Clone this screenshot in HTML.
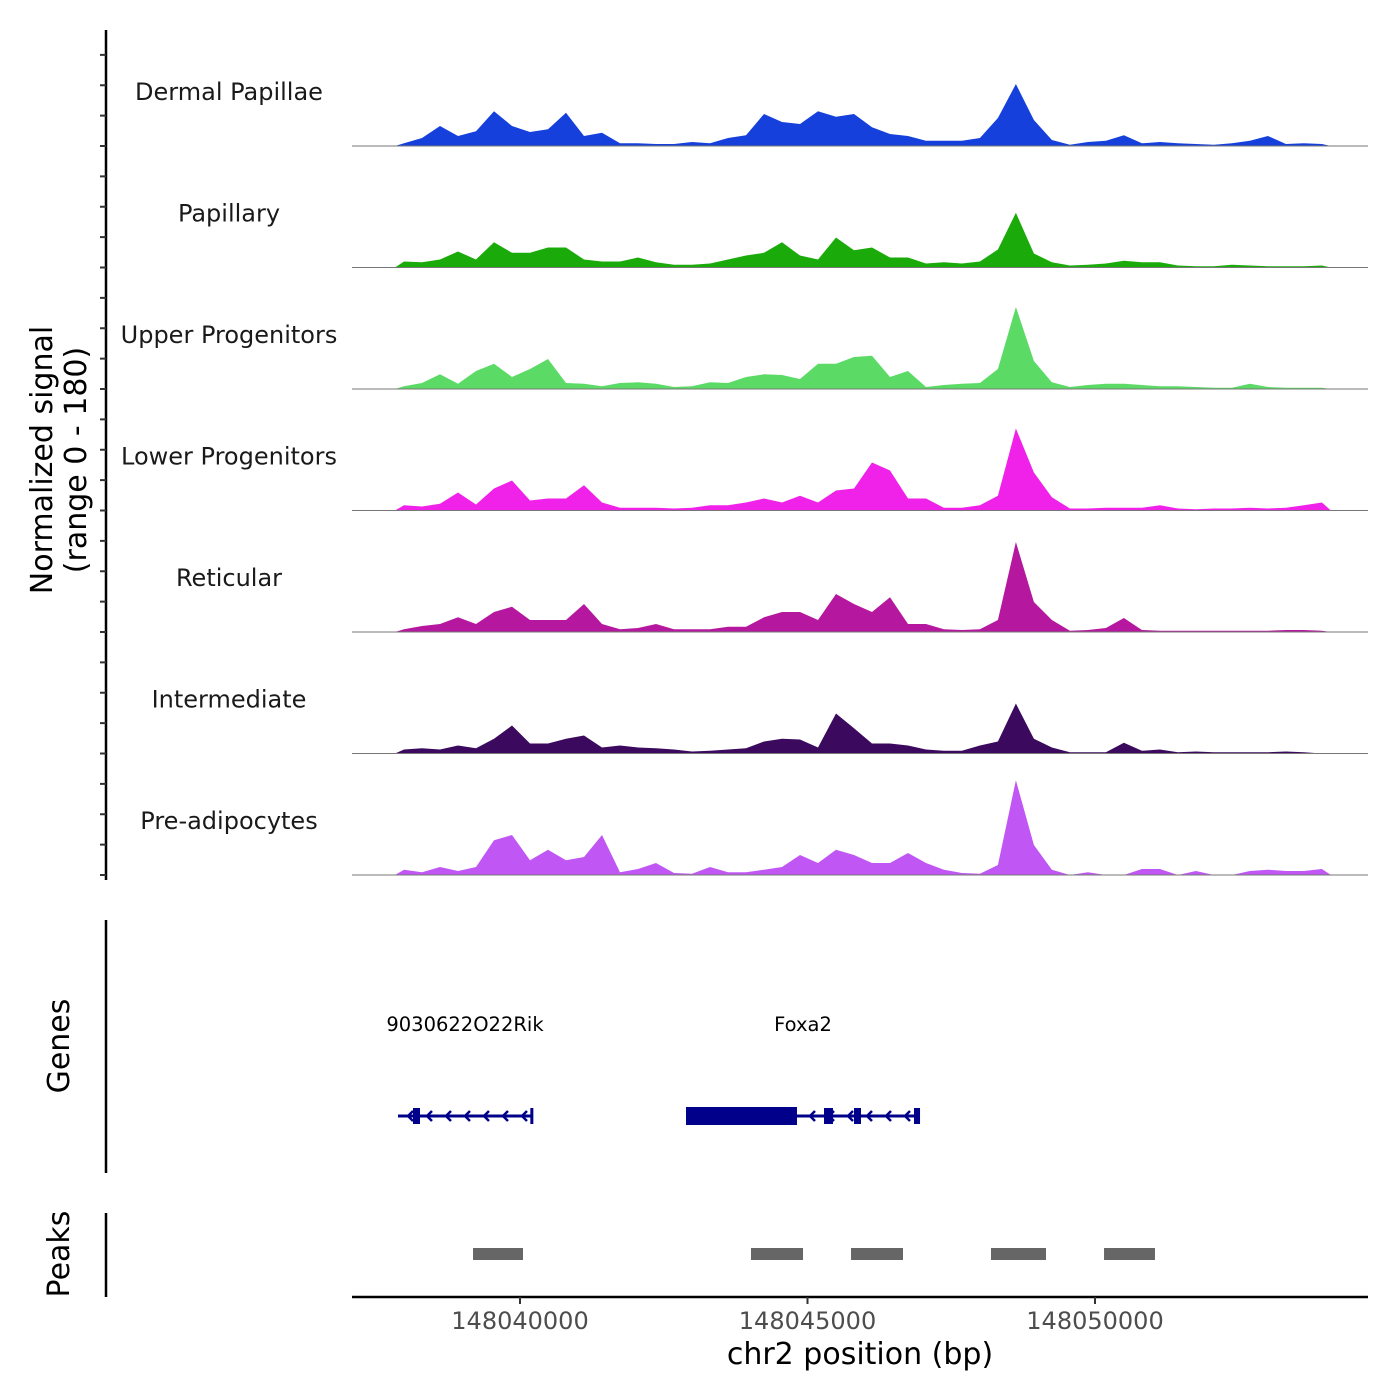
<!DOCTYPE html>
<html><head><meta charset="utf-8"><style>
body{margin:0;background:#fff;}
svg{display:block;font-family:"DejaVu Sans","Liberation Sans",sans-serif;}
</style></head><body>
<svg id="chart" width="1400" height="1400" viewBox="0 0 1400 1400" xmlns="http://www.w3.org/2000/svg">
<rect width="1400" height="1400" fill="#fff"/>
<g id="tracks"></g>
<g id="genes"></g>
<g id="peaks"></g>
<g id="axes"></g>
<text x="0" y="0" transform="translate(52,460) rotate(-90)" text-anchor="middle" font-size="30" fill="#000">Normalized signal</text>
<text x="0" y="0" transform="translate(86,460) rotate(-90)" text-anchor="middle" font-size="30" fill="#000">(range 0 - 180)</text>
<text x="0" y="0" transform="translate(69,1046) rotate(-90)" text-anchor="middle" font-size="30" fill="#000">Genes</text>
<text x="0" y="0" transform="translate(69,1254) rotate(-90)" text-anchor="middle" font-size="30" fill="#000">Peaks</text>
<text x="860" y="1364" text-anchor="middle" font-size="30" fill="#000">chr2 position (bp)</text>
</svg>
<script>
// ---- data ----
const binStart = 148037983;
const binStep = 313;
const trackNames = ["Dermal Papillae","Papillary","Upper Progenitors","Lower Progenitors","Reticular","Intermediate","Pre-adipocytes"];
const trackColors = ["#1540dc","#1aab0a","#5bdb66","#f021e8","#b5189f","#3b0a5e","#c057f5"];
const dermalPapillae = [4,12,30,15,22,52,30,21,25,50,15,20,4,4,3,3,6,4,12,16,48,36,33,52,44,48,28,18,15,8,8,8,12,42,93,39,9,2,6,8,16,4,6,4,3,2,4,8,15,3,4,3];
const papillary = [9,8,12,24,12,38,22,22,30,30,12,9,9,15,8,4,4,6,12,18,22,38,18,12,45,26,30,15,15,6,8,6,9,27,82,21,8,3,4,6,10,8,8,3,2,2,4,3,2,2,2,3];
const upperProgenitors = [4,9,22,8,27,38,18,30,45,9,8,4,9,10,8,3,4,10,9,18,22,21,15,38,38,48,50,18,27,3,6,8,9,30,123,42,10,3,6,8,8,6,4,4,3,2,2,8,3,2,2,2];
const lowerProgenitors = [8,6,10,27,9,33,45,15,18,18,38,12,4,4,4,3,4,8,8,12,18,12,22,12,30,33,72,60,18,18,4,4,8,22,123,57,20,3,3,4,4,4,8,3,2,3,3,4,3,4,8,12];
const reticular = [4,9,12,22,12,30,38,18,18,18,42,12,4,6,12,4,4,4,8,8,22,30,30,18,57,42,30,52,12,12,4,3,4,18,135,45,18,2,3,6,21,3,2,2,2,2,2,2,2,3,3,2];
const intermediate = [6,8,6,12,8,22,42,15,15,22,27,9,12,9,8,6,3,4,6,8,18,22,21,9,60,38,15,15,12,6,4,4,12,18,75,22,9,2,2,2,16,4,6,2,3,2,2,2,2,3,2,0];
const preAdipocytes = [8,4,12,6,12,52,60,22,38,22,27,60,4,9,18,3,2,12,4,4,8,12,30,18,38,30,18,18,33,18,8,3,2,15,142,45,8,0,4,0,0,9,9,0,6,0,0,6,8,6,6,9];
const xTicks = [148040000,148045000,148050000];
const xTickLabels = ["148040000","148045000","148050000"];
const geneNames = ["9030622O22Rik","Foxa2"];
const geneStarts = [148037878,148042887];
const geneEnds = [148040209,148046922];
const cdsStarts = [148037878,148042887];
const cdsEnds = [148037878,148044817];
const exonStarts = [148038139,148045287,148045809,148046852,148040180];
const exonEnds = [148038261,148045443,148045930,148046957,148040220];
const peakStarts = [148039183,148044017,148045757,148048191,148050157];
const peakEnds = [148040052,148044922,148046661,148049148,148051043];
const yRange = [0,180];

// ---- scales ----
const NS="http://www.w3.org/2000/svg";
const X0=352, X1=1368;
function xs(bp){ return 520 + (bp-148040000)*0.0575; }
const trackH = 121.5, firstBase = 146;
function ys(v,base){ return base - (v-yRange[0])/(yRange[1]-yRange[0])*120; }
function mk(tag,attrs,parent){ const e=document.createElementNS(NS,tag); for(const k in attrs) e.setAttribute(k,attrs[k]); parent.appendChild(e); return e; }

const series=[dermalPapillae,papillary,upperProgenitors,lowerProgenitors,reticular,intermediate,preAdipocytes];
const gT=document.getElementById('tracks');
series.forEach((vals,k)=>{
  const base = firstBase + k*trackH;
  let d = "M"+xs(binStart-binStep/2).toFixed(1)+","+base;
  vals.forEach((v,i)=>{ d += " L"+xs(binStart+i*binStep).toFixed(1)+","+ys(v,base).toFixed(1); });
  d += " L"+xs(binStart+(vals.length-1)*binStep+binStep/2).toFixed(1)+","+base+" Z";
  const p=mk('path',{d:d,fill:trackColors[k]},gT);
  
  
  const l=mk('line',{x1:X0,x2:X1,y1:base,y2:base,stroke:'#777','stroke-width':1},gT);
  
  
  const t=mk('text',{x:229,y:base-46,'text-anchor':'middle','font-size':24,fill:'#1a1a1a'},gT);
  t.textContent=trackNames[k];
  
  
});

// genes
const gG=document.getElementById('genes');
const gy=1116;
geneNames.forEach((n,i)=>{
  const x1=xs(geneStarts[i]), x2=xs(geneEnds[i]);
  const ln=mk('line',{x1:x1,x2:x2,y1:gy,y2:gy,stroke:'#00008b','stroke-width':3},gG);
  
  
  for(let ax=x1+10; ax<x2-8; ax+=19){
    const a=mk('path',{d:`M${ax+5},${gy-5} L${ax},${gy} L${ax+5},${gy+5}`,fill:'none',stroke:'#00008b','stroke-width':2.5},gG);
    
    
  }
  if(cdsEnds[i]>cdsStarts[i]){
    const r=mk('rect',{x:xs(cdsStarts[i]),y:gy-9,width:xs(cdsEnds[i])-xs(cdsStarts[i]),height:18,fill:'#00008b'},gG);
    
    
  }
  const t=mk('text',{x:(i==0?465:803),y:1031,'text-anchor':'middle','font-size':19.5,fill:'#000'},gG);
  t.textContent=n;
  
  
});
exonStarts.forEach((s,i)=>{
  const r=mk('rect',{x:xs(s),y:gy-8,width:Math.max(3,xs(exonEnds[i])-xs(s)),height:16,fill:'#00008b'},gG);
  
  
});

// peaks
const gP=document.getElementById('peaks');
peakStarts.forEach((s,i)=>{
  const r=mk('rect',{x:xs(s),y:1248,width:xs(peakEnds[i])-xs(s),height:12,fill:'#666'},gP);
  
  
});

// axes
const gA=document.getElementById('axes');
[[30,880],[920,1173],[1213,1297]].forEach(([a,b])=>{
  const l=mk('line',{x1:106,x2:106,y1:a,y2:b,stroke:'#000','stroke-width':2.5},gA);
  
  
});
for(let k=0;k<7;k++){
  const base=firstBase+k*trackH;
  for(let j=0;j<4;j++){
    const y=base-j*trackH/4;
    const t=mk('line',{x1:100,x2:106,y1:y,y2:y,stroke:'#333','stroke-width':2},gA);
    
    
  }
}
const bx=mk('line',{x1:X0,x2:X1,y1:1297,y2:1297,stroke:'#000','stroke-width':2.5},gA);


xTicks.forEach((v,i)=>{
  const x=xs(v);
  const t=mk('line',{x1:x,x2:x,y1:1297,y2:1304,stroke:'#333','stroke-width':2},gA);
  
  
  const lb=mk('text',{x:x,y:1329,'text-anchor':'middle','font-size':24,fill:'#4d4d4d'},gA);
  lb.textContent=xTickLabels[i];
  
  
});
</script>
</body></html>
